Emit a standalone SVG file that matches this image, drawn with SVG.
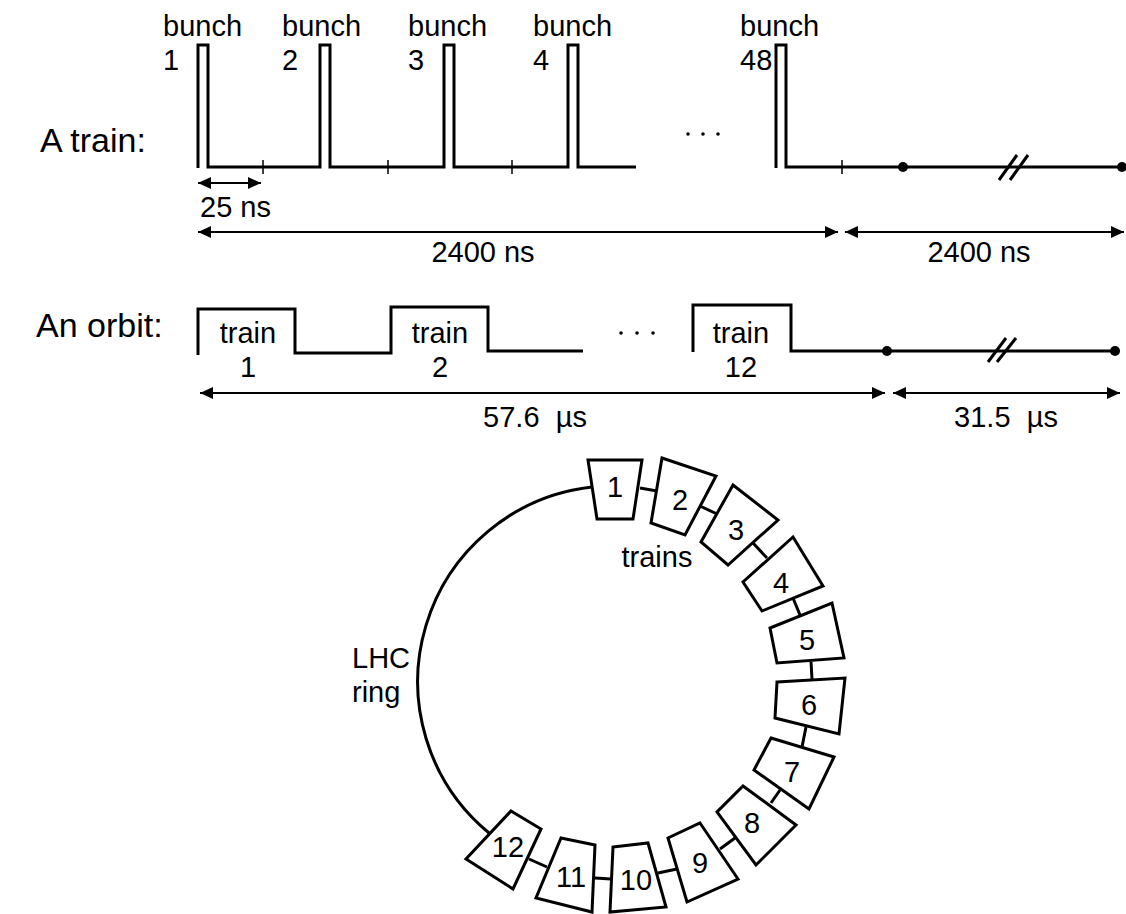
<svg xmlns="http://www.w3.org/2000/svg" width="1126" height="914" viewBox="0 0 1126 914">
<style>
text{font-family:"Liberation Sans",Arial,sans-serif;font-size:29px;fill:#000}
.big{font-size:34px}
.c{text-anchor:middle}
.pre{white-space:pre}
.w{fill:none;stroke:#000;stroke-width:3;stroke-linejoin:miter}
.tk{stroke:#000;stroke-width:1.5}
.ar{stroke:#000;stroke-width:2;fill:none}
.tr{fill:#fff;stroke:#000;stroke-width:3;stroke-linejoin:miter}
.cn{stroke:#000;stroke-width:3}
</style>
<defs>
<marker id="ah" markerUnits="userSpaceOnUse" markerWidth="14" markerHeight="12" refX="13" refY="6" orient="auto-start-reverse">
<path d="M0,0 L13,6 L0,12 Z" fill="#000"/>
</marker>
</defs>

<g id="train-row">
<text class="big" x="40" y="152">A train:</text>
<path class="w" d="M198,168 V45 H208 V167 H320 V45 H330 V167 H444 V45 H454 V167 H568 V45 H578 V167 H636"/>
<path class="w" d="M776,168 V45 H786 V167 H1124"/>
<line class="tk" x1="263" y1="160" x2="263" y2="174"/>
<line class="tk" x1="388" y1="160" x2="388" y2="174"/>
<line class="tk" x1="512" y1="160" x2="512" y2="174"/>
<line class="tk" x1="842" y1="160" x2="842" y2="174"/>
<circle cx="903" cy="167" r="5"/>
<circle cx="1122" cy="167" r="5"/>
<line class="w" x1="999" y1="180" x2="1017" y2="155"/>
<line class="w" x1="1010" y1="180" x2="1028" y2="155"/>
<circle cx="688" cy="134" r="1.8"/><circle cx="703" cy="134" r="1.8"/><circle cx="718" cy="134" r="1.8"/>
<text x="163" y="36">bunch</text><text x="163" y="70">1</text>
<text x="282" y="36">bunch</text><text x="282" y="70">2</text>
<text x="408" y="36">bunch</text><text x="408" y="70">3</text>
<text x="533" y="36">bunch</text><text x="533" y="70">4</text>
<text x="740" y="36">bunch</text><text x="740" y="70">48</text>
</g>

<g id="train-dims">
<line class="ar" x1="198" y1="183" x2="261" y2="183" marker-start="url(#ah)" marker-end="url(#ah)"/>
<text x="200" y="217">25 ns</text>
<line class="ar" x1="198" y1="232" x2="838" y2="232" marker-start="url(#ah)" marker-end="url(#ah)"/>
<text class="c" x="483" y="262">2400 ns</text>
<line class="ar" x1="845" y1="232" x2="1124" y2="232" marker-start="url(#ah)" marker-end="url(#ah)"/>
<text class="c" x="979" y="262">2400 ns</text>
</g>

<g id="orbit-row">
<text class="big" x="36" y="337">An orbit:</text>
<path class="w" d="M198,355 V309 H295 V353 H391 V307 H488 V351 H583"/>
<path class="w" d="M693,352 V305 H791 V351 H1115"/>
<circle cx="887" cy="351" r="5"/>
<circle cx="1115" cy="351" r="5"/>
<line class="w" x1="988" y1="362" x2="1006" y2="338"/>
<line class="w" x1="997" y1="362" x2="1016" y2="338"/>
<circle cx="621" cy="333" r="1.8"/><circle cx="637" cy="333" r="1.8"/><circle cx="653" cy="333" r="1.8"/>
<text class="c" x="248" y="343">train</text><text class="c" x="248" y="377">1</text>
<text class="c" x="440" y="343">train</text><text class="c" x="440" y="377">2</text>
<text class="c" x="741" y="343">train</text><text class="c" x="741" y="377">12</text>
</g>

<g id="orbit-dims">
<line class="ar" x1="200" y1="393" x2="885" y2="393" marker-start="url(#ah)" marker-end="url(#ah)"/>
<text class="c pre" x="535" y="427">57.6  µs</text>
<line class="ar" x1="893" y1="393" x2="1120" y2="393" marker-start="url(#ah)" marker-end="url(#ah)"/>
<text class="c pre" x="1006" y="427">31.5  µs</text>
</g>

<g id="connectors">
<path class="w" d="M592,487 A196,196 0 0 0 489,833"/>
<line class="cn" x1="640" y1="488" x2="657" y2="491"/>
<line class="cn" x1="700" y1="506" x2="717" y2="514"/>
<line class="cn" x1="753" y1="543" x2="767" y2="558"/>
<line class="cn" x1="793" y1="598" x2="800" y2="615"/>
<line class="cn" x1="811" y1="662" x2="812" y2="679"/>
<line class="cn" x1="806" y1="727" x2="802" y2="747"/>
<line class="cn" x1="780" y1="790" x2="771" y2="803"/>
<line class="cn" x1="735" y1="838" x2="720" y2="849"/>
<line class="cn" x1="677" y1="869" x2="658" y2="873"/>
<line class="cn" x1="595" y1="878" x2="611" y2="879"/>
<line class="cn" x1="529" y1="859" x2="547" y2="867"/>
</g>

<g id="ring-labels">
<text x="352" y="668">LHC</text>
<text x="352" y="702">ring</text>
<text class="c" x="657" y="567">trains</text>
</g>

<g id="t1"><polygon class="tr" points="588,460 642,460 633,519 597,519"/><text class="c" x="615" y="497">1</text></g>
<g id="t2"><polygon class="tr" points="662,458 716,476 685,535 651,523"/><text class="c" x="680" y="510">2</text></g>
<g id="t3"><polygon class="tr" points="733,485 778,520 728,565 701,542"/><text class="c" x="736" y="540">3</text></g>
<g id="t4"><polygon class="tr" points="793,537 823,586 762,611 743,582"/><text class="c" x="781" y="593">4</text></g>
<g id="t5"><polygon class="tr" points="832,603 844,658 777,663 770,628"/><text class="c" x="807" y="650">5</text></g>
<g id="t6"><polygon class="tr" points="777,682 845,678 839,734 775,718"/><text class="c" x="809" y="715">6</text></g>
<g id="t7"><polygon class="tr" points="771,738 834,757 809,809 754,770"/><text class="c" x="792" y="782">7</text></g>
<g id="t8"><polygon class="tr" points="743,786 796,825 756,865 717,812"/><text class="c" x="752" y="833">8</text></g>
<g id="t9"><polygon class="tr" points="700,823 738,879 687,902 668,838"/><text class="c" x="700" y="873">9</text></g>
<g id="t10"><polygon class="tr" points="613,847 648,843 666,907 610,912"/><text class="c" x="636" y="890">10</text></g>
<g id="t11"><polygon class="tr" points="561,838 595,845 592,912 536,898"/><text class="c" x="571" y="887">11</text></g>
<g id="t12"><polygon class="tr" points="511,811 541,829 513,889 466,859"/><text class="c" x="508" y="857">12</text></g>
</svg>
